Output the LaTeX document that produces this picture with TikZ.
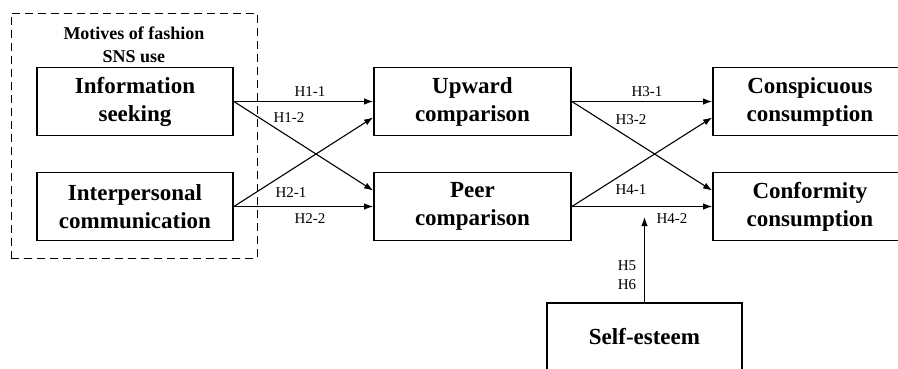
\documentclass[tikz,border=0pt]{standalone}
\usepackage{fontspec}
\setmainfont{Liberation Serif}
\usetikzlibrary{positioning,arrows.meta}

\tikzset{
  varbox/.style={draw, line width=1.8pt, minimum width=196pt, minimum height=68pt,
                 inner sep=0pt, align=center,
                 font=\fontsize{23}{28}\selectfont\bfseries},
  groupbox/.style={draw, line width=1pt, dash pattern=on 8pt off 5pt,
                   minimum width=246pt, minimum height=245pt, inner sep=0pt},
  hyp/.style={font=\fontsize{15}{19}\selectfont, inner sep=0pt},
  link/.style={-{Latex[length=9pt,width=6.5pt]}, line width=1.1pt}
}

\begin{document}
\begin{tikzpicture}[x=1pt,y=-1pt]

  \clip (0,0) rectangle (898,368);

  % group of SNS motives
  \node[groupbox] (group) at (134,135.5) {};
  \node[align=center, inner sep=0pt,
        font=\fontsize{18}{23}\selectfont\bfseries] (motives) at (134,45)
        {Motives of fashion\\SNS use};

  \node[varbox] (info)  at (135,101.5) {Information\\seeking};
  \node[varbox] (inter) at (135,206.5) {Interpersonal\\communication};

  \node[varbox, minimum width=197pt] (upward) at (472.5,101.5) {Upward\\comparison};
  \node[varbox, minimum width=197pt] (peer)   at (472.5,206.5) {Peer\\comparison};

  \node[varbox, minimum width=194pt] (consp) at (810,101.5) {Conspicuous\\consumption};
  \node[varbox, minimum width=194pt] (conf)  at (810,206.5) {Conformity\\consumption};

  \node[varbox, minimum width=195pt] (self) at (644.5,337) {Self-esteem};

  \coordinate (selfend) at (644.5,217);

  % paths
  \draw[link] (info.east)  -- (upward.west);
  \draw[link] (info.east)  -- ([yshift=16]peer.west);
  \draw[link] (inter.east) -- ([yshift=-16]upward.west);
  \draw[link] (inter.east) -- (peer.west);

  \draw[link] (upward.east) -- (consp.west);
  \draw[link] (upward.east) -- ([yshift=16]conf.west);
  \draw[link] (peer.east)   -- ([yshift=-16]consp.west);
  \draw[link] (peer.east)   -- (conf.west);

  \draw[link] (self.north) -- (selfend);

  % hypotheses
  \node[hyp] (h11) at (310,92)  {H1-1};
  \node[hyp] (h12) at (289,118) {H1-2};
  \node[hyp] (h21) at (291,193) {H2-1};
  \node[hyp] (h22) at (310,219) {H2-2};

  \node[hyp] (h31) at (647,92)  {H3-1};
  \node[hyp] (h32) at (631,120) {H3-2};
  \node[hyp] (h41) at (631,190) {H4-1};
  \node[hyp] (h42) at (672,219) {H4-2};

  \node[hyp, align=center] (h56) at (627,275.5) {H5\\H6};

\end{tikzpicture}
\end{document}
